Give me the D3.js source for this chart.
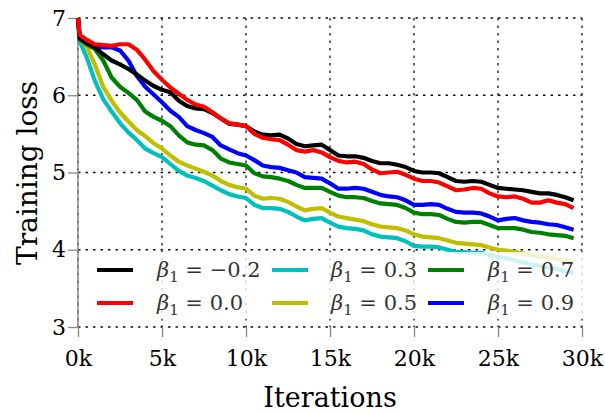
<!DOCTYPE html>
<html>
<head>
<meta charset="UTF-8">
<script src="https://d3js.org/d3.v7.min.js"></script>
<style>
  body { margin: 0; background: #fff; }
  svg text { font-family: "DejaVu Serif", "Liberation Serif", "Noto Serif", serif !important; }
</style>
</head>
<body>
<div id="chart"></div>
<script>
// iterations in thousands
const iters = [0, 0.1, 0.5, 1, 1.5, 2, 2.5, 3, 3.5, 4, 4.5, 5, 5.5, 6, 6.5, 7, 7.5, 8, 8.5, 9, 9.5,
  10, 10.5, 11, 11.5, 12, 12.5, 13, 13.5, 14, 14.5, 15, 15.5, 16, 16.5, 17, 17.5, 18, 18.5, 19, 19.5,
  20, 20.5, 21, 21.5, 22, 22.5, 23, 23.5, 24, 24.5, 25, 25.5, 26, 26.5, 27, 27.5, 28, 28.5, 29, 29.5];

const lossM02 = [7.00, 6.74, 6.68, 6.62, 6.53, 6.45, 6.40, 6.34, 6.27, 6.19, 6.12, 6.07, 6.04, 5.93, 5.86, 5.83, 5.82, 5.77, 5.70, 5.63, 5.62,
  5.60, 5.53, 5.49, 5.48, 5.49, 5.44, 5.37, 5.34, 5.35, 5.36, 5.29, 5.22, 5.21, 5.21, 5.19, 5.15, 5.12, 5.12, 5.10, 5.07,
  5.02, 5.00, 5.00, 4.99, 4.94, 4.89, 4.88, 4.89, 4.88, 4.84, 4.80, 4.79, 4.78, 4.77, 4.75, 4.73, 4.73, 4.71, 4.68, 4.64];
const loss00 = [7.00, 6.78, 6.72, 6.66, 6.65, 6.64, 6.66, 6.66, 6.59, 6.46, 6.31, 6.20, 6.10, 6.02, 5.94, 5.88, 5.85, 5.78, 5.70, 5.64, 5.62,
  5.60, 5.50, 5.45, 5.43, 5.42, 5.36, 5.29, 5.27, 5.29, 5.26, 5.20, 5.15, 5.13, 5.14, 5.11, 5.04, 4.99, 5.00, 5.01, 4.97,
  4.92, 4.89, 4.89, 4.87, 4.82, 4.77, 4.78, 4.80, 4.79, 4.73, 4.69, 4.68, 4.69, 4.66, 4.61, 4.61, 4.64, 4.61, 4.59, 4.54];
const loss03 = [7.00, 6.70, 6.50, 6.19, 5.95, 5.79, 5.64, 5.52, 5.42, 5.31, 5.25, 5.20, 5.11, 5.02, 4.96, 4.93, 4.89, 4.83, 4.77, 4.72, 4.69,
  4.67, 4.58, 4.54, 4.54, 4.53, 4.49, 4.43, 4.38, 4.40, 4.41, 4.35, 4.30, 4.28, 4.27, 4.25, 4.20, 4.17, 4.16, 4.15, 4.11,
  4.05, 4.04, 4.04, 4.03, 4.00, 3.97, 3.97, 3.96, 3.96, 3.93, 3.91, 3.89, 3.86, 3.84, 3.81, 3.79, 3.77, 3.75, 3.72, 3.70];
const loss05 = [7.00, 6.72, 6.64, 6.40, 6.11, 5.93, 5.78, 5.66, 5.55, 5.47, 5.38, 5.31, 5.22, 5.14, 5.09, 5.05, 5.01, 4.96, 4.89, 4.84, 4.81,
  4.79, 4.70, 4.66, 4.67, 4.66, 4.62, 4.56, 4.51, 4.53, 4.54, 4.48, 4.43, 4.41, 4.39, 4.37, 4.33, 4.30, 4.29, 4.28, 4.25,
  4.20, 4.17, 4.16, 4.15, 4.12, 4.09, 4.08, 4.07, 4.06, 4.03, 4.00, 3.99, 3.97, 3.95, 3.93, 3.91, 3.90, 3.88, 3.86, 3.83];
const loss07 = [7.00, 6.72, 6.66, 6.60, 6.45, 6.23, 6.11, 6.03, 5.94, 5.79, 5.72, 5.67, 5.60, 5.48, 5.39, 5.36, 5.35, 5.29, 5.18, 5.13, 5.11,
  5.09, 4.99, 4.95, 4.94, 4.92, 4.89, 4.84, 4.80, 4.80, 4.80, 4.75, 4.70, 4.68, 4.68, 4.67, 4.63, 4.60, 4.59, 4.58, 4.54,
  4.48, 4.46, 4.46, 4.45, 4.40, 4.36, 4.35, 4.36, 4.36, 4.32, 4.28, 4.28, 4.28, 4.26, 4.23, 4.22, 4.20, 4.19, 4.18, 4.15];
const loss09 = [7.00, 6.76, 6.68, 6.63, 6.62, 6.62, 6.58, 6.45, 6.25, 6.11, 6.01, 5.91, 5.80, 5.72, 5.60, 5.55, 5.51, 5.46, 5.35, 5.30, 5.25,
  5.22, 5.16, 5.09, 5.07, 5.06, 5.03, 5.00, 4.94, 4.93, 4.92, 4.86, 4.79, 4.79, 4.80, 4.79, 4.75, 4.71, 4.69, 4.68, 4.64,
  4.58, 4.58, 4.59, 4.58, 4.53, 4.49, 4.48, 4.48, 4.47, 4.43, 4.38, 4.40, 4.41, 4.38, 4.36, 4.35, 4.33, 4.32, 4.29, 4.26];

const seriesNames = ["\u22120.2", "0.0", "0.3", "0.5", "0.7", "0.9"];
const seriesValues = [lossM02, loss00, loss03, loss05, loss07, loss09];
const seriesColors = ["#000000", "#ff0000", "#00bfbf", "#bfbf00", "#008000", "#0000ff"];

const xTicks = [0, 5, 10, 15, 20, 25, 30];
const yTicks = [3, 4, 5, 6, 7];

const W = 605, H = 414;
const margin = {top: 18, right: 23, bottom: 87, left: 78};
const width = W - margin.left - margin.right;
const height = H - margin.top - margin.bottom;

const svg = d3.select("#chart").append("svg")
    .attr("width", W).attr("height", H);

const g = svg.append("g")
    .attr("transform", `translate(${margin.left},${margin.top})`);

const x = d3.scaleLinear().domain([0, 30]).range([0, width]);
const y = d3.scaleLinear().domain([3, 7]).range([height, 0]);

// grid
g.append("g").selectAll("line").data(yTicks).enter().append("line")
    .attr("x1", 0).attr("x2", width)
    .attr("y1", d => y(d)).attr("y2", d => y(d))
    .attr("stroke", "#111").attr("stroke-width", 1.3).attr("stroke-dasharray", "2.5,5");
g.append("g").selectAll("line").data(xTicks).enter().append("line")
    .attr("y1", 0).attr("y2", height)
    .attr("x1", d => x(d)).attr("x2", d => x(d))
    .attr("stroke", "#111").attr("stroke-width", 1.3).attr("stroke-dasharray", "2.5,5");

// axes
const xAxis = g.append("g")
    .attr("transform", `translate(0,${height})`)
    .call(d3.axisBottom(x).tickValues(xTicks).tickFormat(d => d + "k").tickSize(10).tickPadding(13));
const yAxis = g.append("g")
    .call(d3.axisLeft(y).tickValues(yTicks).tickFormat(d3.format("d")).tickSize(10).tickPadding(2));
xAxis.select(".domain").remove();
yAxis.select(".domain").attr("stroke", "#888").attr("stroke-width", 1.5).attr("d", `M0,0V${height}`);
svg.selectAll(".tick line").attr("stroke", "#888").attr("stroke-width", 1.3);
svg.selectAll(".tick text").attr("fill", "#000").style("font-size", "22px");

// lines
const line = d3.line()
    .x((d, i) => x(iters[i]))
    .y(d => y(d));

// draw order: lower beta first so black / red sit on top as in the picture
[2, 3, 4, 5, 0, 1].forEach(k => {
  g.append("path")
      .datum(seriesValues[k])
      .attr("fill", "none")
      .attr("stroke", seriesColors[k])
      .attr("stroke-width", 4.2)
      .attr("stroke-linejoin", "round")
      .attr("d", line);
});

// legend
const legend = svg.append("g");
legend.append("rect")
    .attr("x", 84).attr("y", 252).attr("width", 500).attr("height", 67)
    .attr("fill", "#fff").attr("fill-opacity", 0.8);

const colHandle = [97, 272, 428];
const colText = [157, 331, 488];
const rowY = [270, 303];

seriesNames.forEach((name, i) => {
  const c = Math.floor(i / 2), r = i % 2;
  legend.append("line")
      .attr("x1", colHandle[c]).attr("x2", colHandle[c] + 36)
      .attr("y1", rowY[r]).attr("y2", rowY[r])
      .attr("stroke", seriesColors[i]).attr("stroke-width", 4.2);
  const t = legend.append("text")
      .attr("x", colText[c]).attr("y", rowY[r] + 7)
      .attr("fill", "#333")
      .style("font-size", "21px");
  t.append("tspan").style("font-style", "italic").text("\u03b2");
  t.append("tspan").attr("dy", 5).style("font-size", "15px").text("1");
  t.append("tspan").attr("dy", -5).text(" = " + name);
});

// axis titles
svg.append("text")
    .attr("x", margin.left + width / 2).attr("y", 407)
    .attr("text-anchor", "middle")
    .style("font-size", "27px")
    .text("Iterations");

svg.append("text")
    .attr("transform", `translate(37,173) rotate(-90)`)
    .attr("text-anchor", "middle")
    .style("font-size", "28px")
    .text("Training loss");
</script>
</body>
</html>
